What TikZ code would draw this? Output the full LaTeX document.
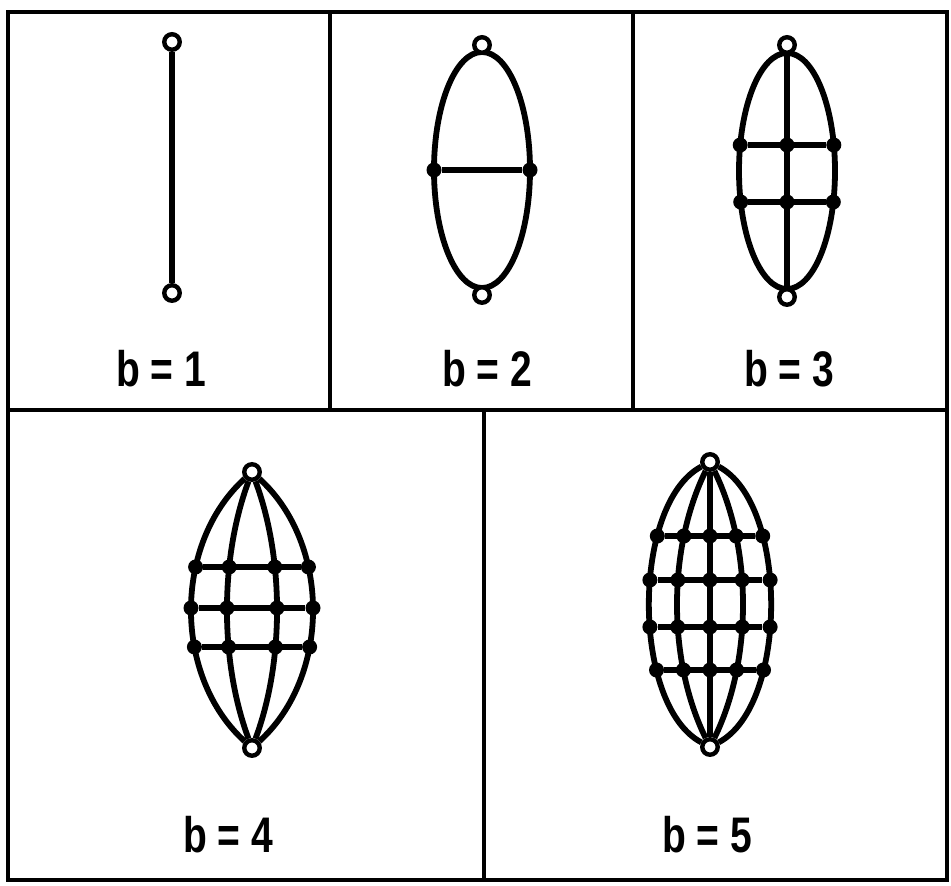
\documentclass[tikz,border=0pt]{standalone}
\usepackage{fontspec}
\setmainfont{Liberation Sans}
\usetikzlibrary{backgrounds}
\begin{document}
\begin{tikzpicture}[x=1pt,y=1pt,
  frame/.style={line width=4pt},
  divider/.style={line width=3.2pt},
  edge/.style={line width=5.8pt},
  dot/.style={circle,fill=black,inner sep=0pt,minimum size=15pt},
  term/.style={circle,draw,fill=white,line width=4.4pt,inner sep=0pt,minimum size=15.5pt},
  lab/.style={font=\fontsize{50}{60}\selectfont\bfseries,inner sep=0pt,anchor=base}]
\useasboundingbox (0,0) rectangle (951,886);
% frame
\draw[frame] (8,6) rectangle (947,874);
\draw[divider] (8,476) -- (947,476);
\draw[divider] (330,476) -- (330,874);
\draw[divider] (633,476) -- (633,874);
\draw[divider] (484,6) -- (484,476);

% ---------- b = 1
\node[term] (t1) at (172,844) {};
\node[term] (u1) at (172,593) {};
\begin{scope}[on background layer]
\draw[edge] (t1) -- (u1);
\end{scope}
\node[lab] (l1) at (161,499) {\scalebox{0.78}[1]{b = 1}};

% ---------- b = 2
\node[term] (t2) at (482,841) {};
\node[term] (u2) at (482,591) {};
\node[dot] (a2) at (434,716) {};
\node[dot] (c2) at (530,716) {};
\begin{scope}[on background layer]
\draw[edge] (482,716) ellipse [x radius=48, y radius=118];
\draw[edge] (a2) -- (c2);
\end{scope}
\node[lab] (l2) at (487,499) {\scalebox{0.78}[1]{b = 2}};

% ---------- b = 3
\node[term] (t3) at (787,841) {};
\node[term] (u3) at (787,589) {};
\node[dot] (a31) at (740.2,741) {};
\node[dot] (b31) at (787,741) {};
\node[dot] (c31) at (833.8,741) {};
\node[dot] (a32) at (740.7,684) {};
\node[dot] (b32) at (787,684) {};
\node[dot] (c32) at (833.3,684) {};
\begin{scope}[on background layer]
\draw[edge] (787,715) ellipse [x radius=48, y radius=118];
\draw[edge] (t3) -- (u3);
\draw[edge] (a31) -- (c31);
\draw[edge] (a32) -- (c32);
\end{scope}
\node[lab] (l3) at (789,499) {\scalebox{0.78}[1]{b = 3}};

% ---------- b = 4
\node[term] (t4) at (252,414) {};
\node[term] (u4) at (252,138) {};
\node[dot] (a41) at (195.6,319) {};
\node[dot] (b41) at (229.2,319) {};
\node[dot] (c41) at (274.8,319) {};
\node[dot] (d41) at (308.4,319) {};
\node[dot] (a42) at (191.0,278) {};
\node[dot] (b42) at (227.0,278) {};
\node[dot] (c42) at (277.0,278) {};
\node[dot] (d42) at (313.0,278) {};
\node[dot] (a43) at (194.4,239) {};
\node[dot] (b43) at (228.6,239) {};
\node[dot] (c43) at (275.4,239) {};
\node[dot] (d43) at (309.6,239) {};
\begin{scope}[on background layer]
\draw[edge] (t4) to[bend right=47.7,looseness=0.945] (u4);
\draw[edge] (t4) to[bend right=20.5,looseness=0.818] (u4);
\draw[edge] (t4) to[bend left=20.5,looseness=0.818] (u4);
\draw[edge] (t4) to[bend left=47.7,looseness=0.945] (u4);
\draw[edge] (a41) -- (d41);
\draw[edge] (a42) -- (d42);
\draw[edge] (a43) -- (d43);
\end{scope}
\node[lab] (l4) at (228,33) {\scalebox{0.78}[1]{b = 4}};

% ---------- b = 5
\node[term] (t5) at (710,424) {};
\node[term] (u5) at (710,139) {};
\node[dot] (a51) at (657.3,350) {};
\node[dot] (b51) at (683.9,350) {};
\node[dot] (c51) at (710,350) {};
\node[dot] (d51) at (736.1,350) {};
\node[dot] (e51) at (762.7,350) {};
\node[dot] (a52) at (649.9,306) {};
\node[dot] (b52) at (677.9,306) {};
\node[dot] (c52) at (710,306) {};
\node[dot] (d52) at (742.1,306) {};
\node[dot] (e52) at (770.1,306) {};
\node[dot] (a53) at (649.9,259) {};
\node[dot] (b53) at (677.7,259) {};
\node[dot] (c53) at (710,259) {};
\node[dot] (d53) at (742.3,259) {};
\node[dot] (e53) at (770.1,259) {};
\node[dot] (a54) at (656.5,216) {};
\node[dot] (b54) at (683.4,216) {};
\node[dot] (c54) at (710,216) {};
\node[dot] (d54) at (736.6,216) {};
\node[dot] (e54) at (763.5,216) {};
\begin{scope}[on background layer]
\draw[edge] (t5) to[bend right=62,looseness=0.736] (u5);
\draw[edge] (t5) to[bend right=26.1,looseness=0.833] (u5);
\draw[edge] (t5) -- (u5);
\draw[edge] (t5) to[bend left=26.1,looseness=0.833] (u5);
\draw[edge] (t5) to[bend left=62,looseness=0.736] (u5);
\draw[edge] (a51) -- (e51);
\draw[edge] (a52) -- (e52);
\draw[edge] (a53) -- (e53);
\draw[edge] (a54) -- (e54);
\end{scope}
\node[lab] (l5) at (707,33) {\scalebox{0.78}[1]{b = 5}};
\end{tikzpicture}
\end{document}
